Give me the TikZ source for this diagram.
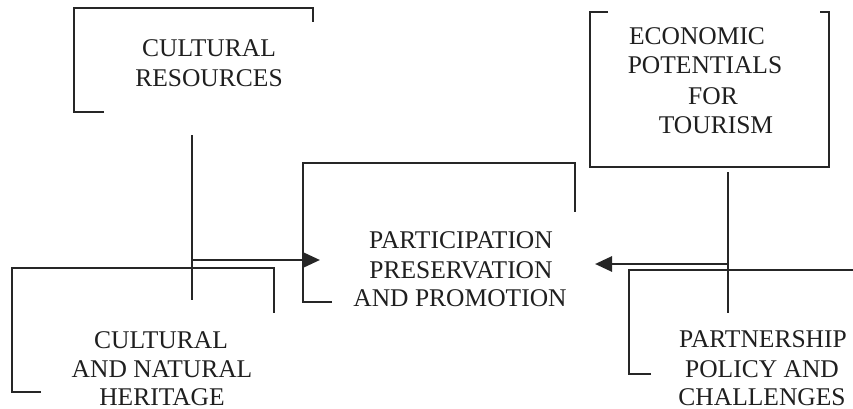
\documentclass[tikz,border=0pt]{standalone}
\usepackage{fontspec}
\setmainfont{Liberation Serif}
\usetikzlibrary{arrows.meta}
\begin{document}
\begin{tikzpicture}[x=1pt,y=-1pt,
  lbl/.style={font=\fontsize{25.5}{30}\selectfont, anchor=base, inner sep=0pt, text=black!88},
  brk/.style={line width=1.8pt, draw=black!85},
  conn/.style={line width=1.6pt, draw=black!85},
  arr/.style={line width=2.8pt, draw=black!85, -{Triangle[length=17pt,width=15pt]}}]
\useasboundingbox (0,0) rectangle (853,409);
% texts
\node[lbl] (cr1) at (209,57) {CULTURAL};
\node[lbl] (cr2) at (209,87) {RESOURCES};
\node[lbl] (ec1) at (697,45) {ECONOMIC};
\node[lbl] (ec2) at (705,74) {POTENTIALS};
\node[lbl] (ec3) at (713,105) {FOR};
\node[lbl] (ec4) at (716,133) {TOURISM};
\node[lbl] (pp1) at (461,248) {PARTICIPATION};
\node[lbl] (pp2) at (461,278) {PRESERVATION};
\node[lbl] (pp3) at (460,306) {AND PROMOTION};
\node[lbl] (ch1) at (161,348) {CULTURAL};
\node[lbl] (ch2) at (162,377) {AND NATURAL};
\node[lbl] (ch3) at (162,405) {HERITAGE};
\node[lbl] (pa1) at (763,347) {PARTNERSHIP};
\node[lbl] (pa2) at (762,377) {POLICY AND};
\node[lbl] (pa3) at (762,405) {CHALLENGES};
% brackets
\draw[brk] (104,112) -- (74,112) -- (74,8) -- (313,8) -- (313,22);
\draw[brk] (608,12) -- (590,12) -- (590,167) -- (829,167) -- (829,12) -- (820,12);
\draw[brk] (332,302) -- (303,302) -- (303,163) -- (575,163) -- (575,212);
\draw[brk] (41,392) -- (12,392) -- (12,268) -- (274,268) -- (274,313);
\draw[brk] (651,374) -- (629,374) -- (629,270) -- (853,270);
% connectors
\coordinate (lt) at (192,135);
\coordinate (lb) at (192,300);
\coordinate (lj) at (192,260);
\coordinate (ltip) at (320,260);
\coordinate (rt) at (728,172);
\coordinate (rb) at (728,313);
\coordinate (rj) at (728,264);
\coordinate (rtip) at (595,264);
\draw[conn] (lt) -- (lb);
\draw[conn] (rt) -- (rb);
\draw[arr] (lj) -- (ltip);
\draw[arr] (rj) -- (rtip);
\end{tikzpicture}
\end{document}
